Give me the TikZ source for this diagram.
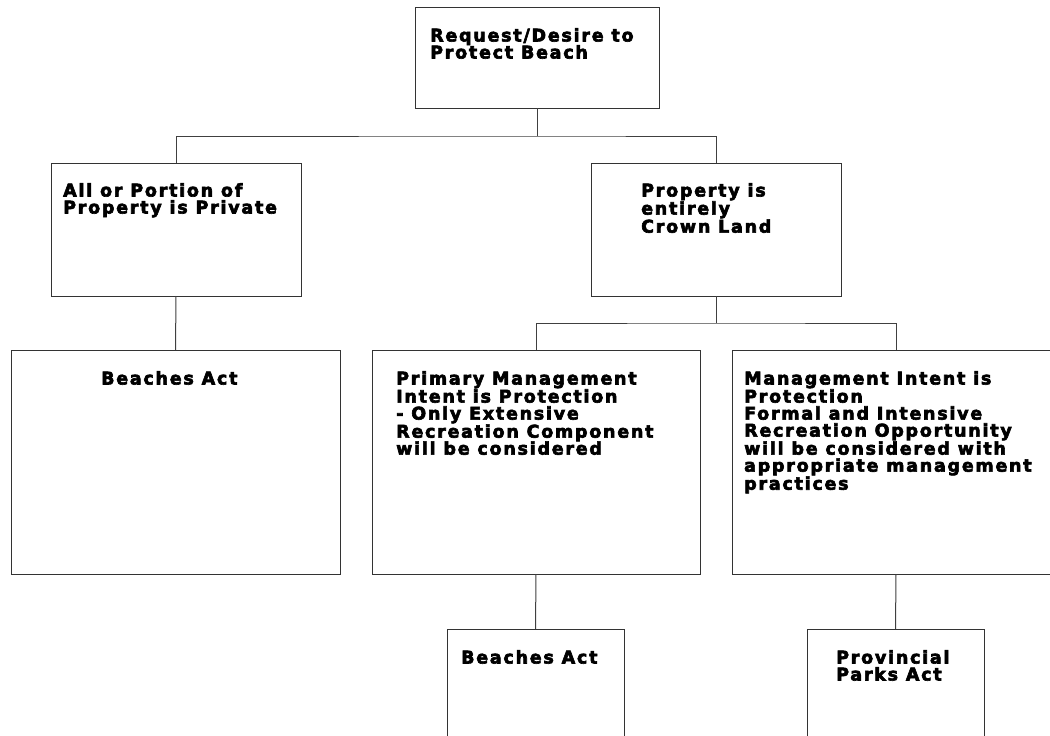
\documentclass[tikz,border=0pt]{standalone}
\usepackage{fontspec}
\usetikzlibrary{fit}
\newfontfamily\boxfont[LetterSpace=10,FakeBold=3.5]{DejaVu Sans Bold}
\begin{document}
\begin{tikzpicture}[x=1pt,y=-1pt,
  box/.style={draw=black!80, line width=1pt, rectangle, inner sep=0pt, outer sep=0pt},
  wire/.style={draw=black!75, line width=1pt},
  lbl/.style={anchor=north west, inner sep=0pt, align=left,
    font=\boxfont\fontsize{17.5}{17}\selectfont}]
\useasboundingbox (0,0) rectangle (1050,736);
\clip (0,0) rectangle (1050,736);
\fill[white] (0,0) rectangle (1050,736);
% boxes
\node[box, fit={(415,7) (659,108)}] (top) {};
\node[box, fit={(51,163) (301,296)}] (left1) {};
\node[box, fit={(591,163) (841,296)}] (right1) {};
\node[box, fit={(11,350) (340,574)}] (beachL) {};
\node[box, fit={(372,350) (700,574)}] (mid) {};
\node[box, fit={(732,350) (1060,574)}] (rbox) {};
\node[box, fit={(447,629) (624,790)}] (beachB) {};
\node[box, fit={(807,629) (984,790)}] (parks) {};
% texts
\node[lbl] (ttop) at (430,28) {\rule{0pt}{13pt}Request/Desire to\\Protect Beach};
\node[lbl] (tleft1) at (63,183) {\rule{0pt}{13pt}All or Portion of\\Property is Private};
\node[lbl] (tright1) at (641,183) {\rule{0pt}{13pt}Property is\\entirely\\Crown Land};
\node[lbl] (tbeachL) at (101,371) {\rule{0pt}{13pt}Beaches Act};
\node[lbl] (tmid) at (396,371) {\rule{0pt}{13pt}Primary Management\\Intent is Protection\\- Only Extensive\\Recreation Component\\will be considered};
\node[lbl] (trbox) at (744,371) {\rule{0pt}{13pt}Management Intent is\\Protection\\Formal and Intensive\\Recreation Opportunity\\will be considered with\\appropriate management\\practices};
\node[lbl] (tbeachB) at (461,650) {\rule{0pt}{13pt}Beaches Act};
\node[lbl] (tparks) at (836,650) {\rule{0pt}{13pt}Provincial\\Parks Act};
% connectors
\coordinate (j1) at (537,136);
\coordinate (j2) at (716,323);
\draw[wire] (top.south) -- (j1);
\draw[wire] (left1.north) |- (j1) -| (right1.north);
\draw[wire] (right1.south) -- (j2);
\draw[wire] (mid.north) |- (j2) -| (rbox.north);
\draw[wire] (left1.south) -- (beachL.north);
\draw[wire] (mid.south) -- (beachB.north);
\draw[wire] (rbox.south) -- (parks.north);
\end{tikzpicture}
\end{document}
